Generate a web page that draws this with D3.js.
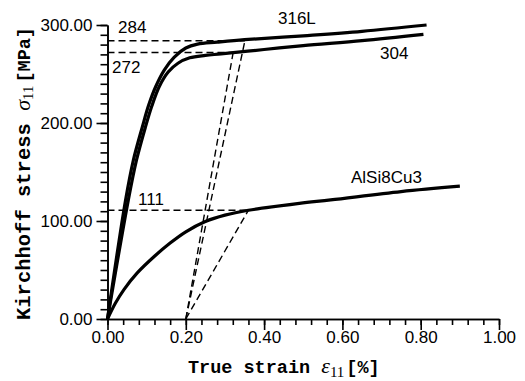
<!DOCTYPE html>
<html>
<head>
<meta charset="utf-8">
<script src="https://cdn.jsdelivr.net/npm/d3@7"></script>
<style>
  body { margin: 0; background: #fff; }
  svg { display: block; }
</style>
</head>
<body>
<svg id="chart" width="525" height="381"></svg>
<script>
// stress-strain curves, strain in %, stress in MPa
const curve316L = [[0,0],[0.046,121],[0.066,162],[0.089,196],[0.105,218],[0.123,237],[0.145,254],[0.17,267],[0.2,276.5],[0.23,280.5],[0.28,282.5],[0.35,285],[0.5,289],[0.65,293.5],[0.815,300]];
const curve304 = [[0,0],[0.053,121],[0.074,162],[0.097,196],[0.113,217],[0.132,237],[0.155,252],[0.18,261],[0.21,266.5],[0.25,269],[0.29,270.5],[0.4,275],[0.5,279],[0.65,284],[0.807,290.5]];
const curveAlSi = [[0,0],[0.02,16],[0.042,30],[0.076,47],[0.12,64],[0.16,77.5],[0.2,89],[0.25,99.5],[0.3,106],[0.36,111],[0.49,118],[0.57,121.5],[0.75,130],[0.9,135.5]];

// 0.2% offset yield construction
const offsetStrain = 0.2;
const yieldPoints = [
  { name: "284", stress: 284, strain: 0.351 },
  { name: "272", stress: 272, strain: 0.321 },
  { name: "111", stress: 111, strain: 0.36 }
];

const xMajor = [0, 0.2, 0.4, 0.6, 0.8, 1.0];
const yMajor = [0, 100, 200, 300];

const svg = d3.select("#chart");
const x = d3.scaleLinear().domain([0, 1]).range([107.5, 499]);
const y = d3.scaleLinear().domain([0, 300]).range([319, 25]);

const fmt = d3.format(".2f");

// minor ticks
svg.append("g")
  .attr("transform", `translate(0,${y(0)})`)
  .call(d3.axisBottom(x).tickValues(d3.range(0, 1.001, 0.04)).tickSize(6).tickSizeOuter(0).tickFormat(""))
  .call(g => g.selectAll("line,path").attr("stroke", "#000").attr("stroke-width", 1.6));
svg.append("g")
  .attr("transform", `translate(${x(0)},0)`)
  .call(d3.axisLeft(y).tickValues(d3.range(0, 301, 10)).tickSize(7).tickSizeOuter(0).tickFormat(""))
  .call(g => g.selectAll("line,path").attr("stroke", "#000").attr("stroke-width", 1.6));

// major ticks with labels
svg.append("g")
  .attr("transform", `translate(0,${y(0)})`)
  .call(d3.axisBottom(x).tickValues(xMajor).tickSize(11).tickSizeOuter(0).tickPadding(1).tickFormat(fmt))
  .call(g => g.selectAll("line,path").attr("stroke", "#000").attr("stroke-width", 1.6))
  .call(g => g.selectAll("text").attr("fill", "#000")
    .style("font-family", "'Liberation Sans', Arial, sans-serif").style("font-size", "17px"));
svg.append("g")
  .attr("transform", `translate(${x(0)},0)`)
  .call(d3.axisLeft(y).tickValues(yMajor).tickSize(11).tickSizeOuter(0).tickPadding(4).tickFormat(fmt))
  .call(g => g.selectAll("line,path").attr("stroke", "#000").attr("stroke-width", 1.6))
  .call(g => g.selectAll("text").attr("fill", "#000")
    .style("font-family", "'Liberation Sans', Arial, sans-serif").style("font-size", "17px"));

// dashed construction lines
const dash = svg.append("g")
  .attr("stroke", "#000").attr("stroke-width", 1.4).attr("stroke-dasharray", "7,4").attr("fill", "none");
yieldPoints.forEach(p => {
  dash.append("line")
    .attr("x1", x(0)).attr("y1", y(p.stress))
    .attr("x2", x(p.strain)).attr("y2", y(p.stress));
  dash.append("line")
    .attr("x1", x(offsetStrain)).attr("y1", y(0))
    .attr("x2", x(p.strain)).attr("y2", y(p.stress));
});

// curves
const line = d3.line().x(d => x(d[0])).y(d => y(d[1])).curve(d3.curveCatmullRom.alpha(0.5));
[curve316L, curve304, curveAlSi].forEach(c => {
  svg.append("path").datum(c)
    .attr("d", line)
    .attr("fill", "none").attr("stroke", "#000").attr("stroke-width", 3.2)
    .attr("stroke-linejoin", "round");
});

// labels
const labels = [
  { t: "284", px: 118, py: 33 },
  { t: "272", px: 112, py: 73 },
  { t: "111", px: 138, py: 205 },
  { t: "316L", px: 278, py: 24 },
  { t: "304", px: 380, py: 59 },
  { t: "AlSi8Cu3", px: 351, py: 183 }
];
svg.selectAll("text.lbl").data(labels).join("text")
  .attr("class", "lbl")
  .attr("x", d => d.px).attr("y", d => d.py)
  .style("font-family", "'Liberation Sans', Arial, sans-serif").style("font-size", "17px")
  .text(d => d.t);

// axis titles
const mono = "'Liberation Mono', 'Courier New', monospace";
const serif = "'Liberation Serif', 'Times New Roman', serif";

const xt = svg.append("text").attr("x", 188).attr("y", 373);
xt.append("tspan").style("font-family", mono).style("font-weight", "bold").style("font-size", "18.5px").text("True strain ");
xt.append("tspan").style("font-family", serif).style("font-style", "italic").style("font-size", "22px").text("ε");
xt.append("tspan").attr("dy", 4).style("font-family", serif).style("font-size", "15px").text("11");
xt.append("tspan").attr("dy", -4).attr("dx", 2).style("font-family", mono).style("font-weight", "bold").style("font-size", "18.5px").text("[%]");

const yt = svg.append("text").attr("transform", "translate(30,320) rotate(-90)");
yt.append("tspan").style("font-family", mono).style("font-weight", "bold").style("font-size", "20.5px").text("Kirchhoff stress ");
yt.append("tspan").style("font-family", serif).style("font-style", "italic").style("font-size", "22px").text("σ");
yt.append("tspan").attr("dy", 3).style("font-family", serif).style("font-size", "15px").text("11");
yt.append("tspan").attr("dy", -3).attr("dx", 3).style("font-family", mono).style("font-weight", "bold").style("font-size", "18.5px").text("[MPa]");
</script>
</body>
</html>
